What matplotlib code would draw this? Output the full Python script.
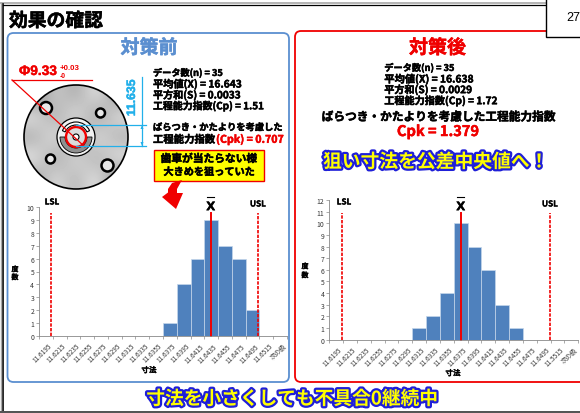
import matplotlib
matplotlib.use('Agg')
import matplotlib.pyplot as plt
import matplotlib.patheffects as pe
from matplotlib.patches import FancyBboxPatch, Circle, Rectangle, Polygon, Wedge
import numpy as np

plt.rcParams['font.family'] = ['Noto Sans CJK JP', 'DejaVu Sans']

W, H = 580, 414
fig = plt.figure(figsize=(W/100, H/100), dpi=100)
bg = fig.add_axes([0, 0, 1, 1])
bg.set_xlim(0, W); bg.set_ylim(H, 0); bg.axis('off')
renderer = fig.canvas.get_renderer()

bins_before = ['11.6195','11.6215','11.6235','11.6255','11.6275','11.6295','11.6315','11.6335','11.6355','11.6375','11.6395','11.6415','11.6435','11.6455','11.6475','11.6495','11.6515','次の級']
freq_before = [0,0,0,0,0,0,0,0,0,1,4,6,9,7,6,2,0,0]
bins_after = ['11.6195','11.6215','11.6235','11.6255','11.6275','11.6295','11.6315','11.6335','11.6355','11.6375','11.6395','11.6415','11.6435','11.6455','11.6475','11.6495','11.5515','次の級']
freq_after = [0,0,0,0,0,0,1,2,4,10,8,6,3,1,0,0,0,0]
stats_before = ['データ数(n) = 35','平均値(X) = 16.643','平方和(S) = 0.0033','工程能力指数(Cp) = 1.51']
stats_after = ['データ数(n) = 35','平均値(X) = 16.638','平方和(S) = 0.0029','工程能力指数(Cp) = 1.72']


def T(x, y, s, size, color='black', ha='left', va='center', glow=None, fit=None, stroke=0.35, **kw):
    t = bg.text(x, y, s, fontsize=size, color=color, fontweight='bold', ha=ha, va=va, **kw)
    if fit:
        bb = t.get_window_extent(renderer)
        t.set_fontsize(size * fit / max(bb.width, bb.height))
    if glow:
        t.set_path_effects([pe.withStroke(linewidth=3.2, foreground=glow)])
    elif stroke:
        t.set_path_effects([pe.withStroke(linewidth=stroke, foreground=color)])
    return t


# slide frame
bg.plot([0, 580], [4.4, 4.4], color='#a8a8a8', lw=1.2)
bg.plot([3, 580], [5.6, 5.6], color='black', lw=0.9)
bg.plot([3, 3], [5, 412], color='black', lw=1.2)
bg.plot([0.7, 0.7], [4, 412], color='#a8a8a8', lw=1)
bg.add_patch(Rectangle((0, 412), 580, 3, fc='#555555', ec='none', zorder=6))
T(9, 22, '効果の確認', 12.5, fit=94)

# panels
bg.add_patch(FancyBboxPatch((7.5, 34), 281.5, 349, boxstyle='round,pad=0,rounding_size=6', fc='white', ec='#5b8fd0', lw=1.3))
bg.add_patch(FancyBboxPatch((295, 32), 300, 351, boxstyle='round,pad=0,rounding_size=6', fc='white', ec='#f00000', lw=1.3))
bg.add_patch(Rectangle((546, -2), 40, 40, fc='white', ec='black', lw=1, zorder=5))
T(566, 18, '27', 9, stroke=0, family='Liberation Sans', zorder=6).set_fontweight('normal')
T(149, 49, '対策前', 13.5, color='#5b8fd0', ha='center', fit=57)
T(437.5, 49, '対策後', 13.5, color='#f00000', ha='center', fit=57)

# part drawing
cx, cy = 76, 138
disc = Circle((cx, cy), 52, fc='#d4d4d4', ec='none', zorder=2)
bg.add_patch(disc)
shade = np.array([[0.45, 0.85, 0.62, 0.95, 0.55],
                  [0.95, 0.60, 0.97, 0.55, 0.92],
                  [0.62, 0.97, 0.55, 0.95, 0.65],
                  [0.97, 0.58, 0.92, 0.62, 0.95],
                  [0.55, 0.92, 0.66, 0.97, 0.45]])
im = bg.imshow(shade, cmap='gray', vmin=0, vmax=1, extent=(cx-52, cx+52, cy+52, cy-52),
               interpolation='bicubic', zorder=2.1, aspect='auto')
im.set_clip_path(disc)
bg.add_patch(Circle((cx, cy), 52, fc='none', ec='black', lw=1.2, zorder=2.2))
bg.set_xlim(0, W); bg.set_ylim(H, 0)
for hx, hy, r in [(46, 109, 6), (100.5, 114, 4.5), (50.5, 160, 4.5), (107.5, 166.5, 6)]:
    bg.add_patch(Circle((hx, hy), r, fc='#e8e8e8', ec='black', lw=1.8, zorder=3))
bg.add_patch(Circle((cx, cy), 19, fc='#f2f2f2', ec='black', lw=0.9, zorder=3))
bg.add_patch(Wedge((cx, cy), 16, 0, 180, width=5, fc='#8f8f8f', ec='black', lw=0.6, zorder=3.1))
bg.add_patch(Wedge((cx, cy), 15, 205, 335, width=3, fc='white', ec='black', lw=0.8, zorder=3.1))
bg.add_patch(Circle((cx, cy), 10, fc='#dcdcdc', ec='#f00000', lw=1.7, zorder=3.2))
bg.add_patch(Circle((cx, cy), 3, fc='white', ec='black', lw=0.8, zorder=3.3))
bg.plot([12, 92], [81, 81], color='#f00000', lw=0.9, zorder=4)
bg.plot([12, 85], [81, 148], color='#f00000', lw=0.9, zorder=4)
T(19, 72, 'Φ9.33', 10, color='#f00000', family='Liberation Sans', fit=38, stroke=0.3)
T(60, 68, '+0.03', 3.5, color='#f00000', family='Liberation Sans', fit=20, stroke=0)
T(60, 76, '-0', 3.5, color='#f00000', family='Liberation Sans', fit=7, stroke=0)
# dimension
for yy in (126, 147):
    bg.plot([76, 146], [yy, yy], color='#22b0ea', lw=0.9, zorder=4)
bg.plot([142, 142], [78, 147], color='#22b0ea', lw=0.9, zorder=4)
bg.add_patch(Polygon([(140.5, 143), (143.5, 143), (142, 147)], fc='#22b0ea', ec='none', zorder=4))
bg.add_patch(Polygon([(140.5, 130), (143.5, 130), (142, 126)], fc='#22b0ea', ec='none', zorder=4))
T(132, 98.5, '11.635', 10, color='#22b0ea', ha='center', rotation=90, family='Liberation Sans', fit=37, stroke=0.3)

# statistics, before
for y, w, s in zip([74, 85, 96, 107], [70, 89, 87.5, 111], stats_before):
    T(153, y, s, 6.5, fit=w)
bg.plot([181, 188], [80.5, 80.5], color='black', lw=0.6)
T(153, 128.7, 'ばらつき・かたよりを考慮した', 6.6, fit=129)
T(153, 140.5, '工程能力指数', 7.4, fit=62)
T(216, 140.5, '(Cpk) = 0.707', 6.6, color='#f00000', fit=68)
bg.add_patch(Rectangle((154, 150.7), 110, 31, fc='#ffff00', ec='#f00000', lw=1, zorder=3))
T(209, 160, '歯車が当たらない様', 6.6, ha='center', fit=96, zorder=4)
T(209, 173, '大きめを狙っていた', 6.6, ha='center', fit=91, zorder=4)
bg.add_patch(Polygon([(182, 181), (172, 184), (168, 190), (168, 193.5), (162, 198), (176, 210),
                      (183, 194), (177, 194), (177, 190)], fc='#f00000', ec='none', zorder=4))

# statistics, after
for y, w, s in zip([69, 80, 90.7, 101.7], [70, 89, 88, 113], stats_after):
    T(384.3, y, s, 5.5, fit=w)
bg.plot([419, 426], [75.5, 75.5], color='black', lw=0.6)
T(438, 118, 'ばらつき・かたよりを考慮した工程能力指数', 7.1, ha='center', fit=234)
T(438, 133, 'Cpk = 1.379', 9.5, color='#f00000', ha='center', fit=82)
T(435.5, 163, '狙い寸法を公差中央値へ！', 11, color='#ffff00', ha='center', glow='#1f1fd8', fit=225)
T(292.5, 400, '寸法を小さくしても不具合0継続中', 11, color='#ffff00', ha='center', glow='#1f1fd8', fit=291)


def hist(rect, labels, freq, ymax, lsl_x, usl_x, mean_x, line_top):
    x0, y0, x1, y1 = rect
    ax = fig.add_axes([x0/W, 1-y1/H, (x1-x0)/W, (y1-y0)/H])
    ax.patch.set_alpha(0)
    xs = np.arange(len(labels))
    ax.bar(xs, freq, width=1.0, color='#4f81bd', edgecolor='#c5d6ea', linewidth=0.5)
    ax.set_xlim(-0.5, len(labels)-0.5); ax.set_ylim(0, ymax)
    ax.set_xticks(np.arange(len(labels)+1)-0.5)
    ax.set_xticklabels([])
    ax.set_yticks(range(ymax+1))
    ax.tick_params(axis='y', labelsize=4.9, length=2, width=0.5, color='#888888', pad=1.5, labelcolor='#333333')
    ax.tick_params(axis='x', length=2, width=0.5, color='#888888')
    for sp in ['top', 'right']:
        ax.spines[sp].set_visible(False)
    for sp in ['left', 'bottom']:
        ax.spines[sp].set_color('#888888'); ax.spines[sp].set_linewidth(0.6)
    for x, l in zip(xs, labels):
        ax.annotate(l, (x, 0), xytext=(1.5, -4), textcoords='offset points',
                    fontsize=4.7, rotation=45, ha='right', va='top', rotation_mode='anchor',
                    color='#333333', annotation_clip=False)
    for xv, st in [(lsl_x, (0, (2, 0.8))), (usl_x, (0, (2, 0.8))), (mean_x, '-')]:
        ax.plot([xv, xv], [0, line_top], color='#f00000', ls=st, lw=1.2 if st != '-' else 1.4, clip_on=False)
    return ax


hist((39, 208, 287, 337), bins_before, freq_before, 10, 0.35, 15.42, 11.96, 9.55)
hist((329.3, 201, 578.3, 340.7), bins_after, freq_after, 12, 0.44, 15.44, 9.0, 10.9)

for x, y, s in [(52, 203, 'LSL'), (258, 205, 'USL'), (344, 203, 'LSL'), (550, 205, 'USL')]:
    T(x, y, s, 5.9, ha='center', stroke=0.2)
for x in [210.7, 460.7]:
    T(x, 207.7, 'X', 8.5, ha='center', family='DejaVu Sans', stroke=0.2)
    bg.plot([x-3.5, x+3.5], [198, 198], color='black', lw=0.8)
for x, ys in [(15, (270, 278)), (305, (267, 276))]:
    T(x, ys[0], '度', 5, ha='center', stroke=0.25)
    T(x, ys[1], '数', 5, ha='center', stroke=0.25)
T(149, 371, '寸法', 5.4, ha='center', stroke=0.25)
T(453, 374, '寸法', 5.4, ha='center', stroke=0.25)

fig.savefig('out.png', dpi=100)
